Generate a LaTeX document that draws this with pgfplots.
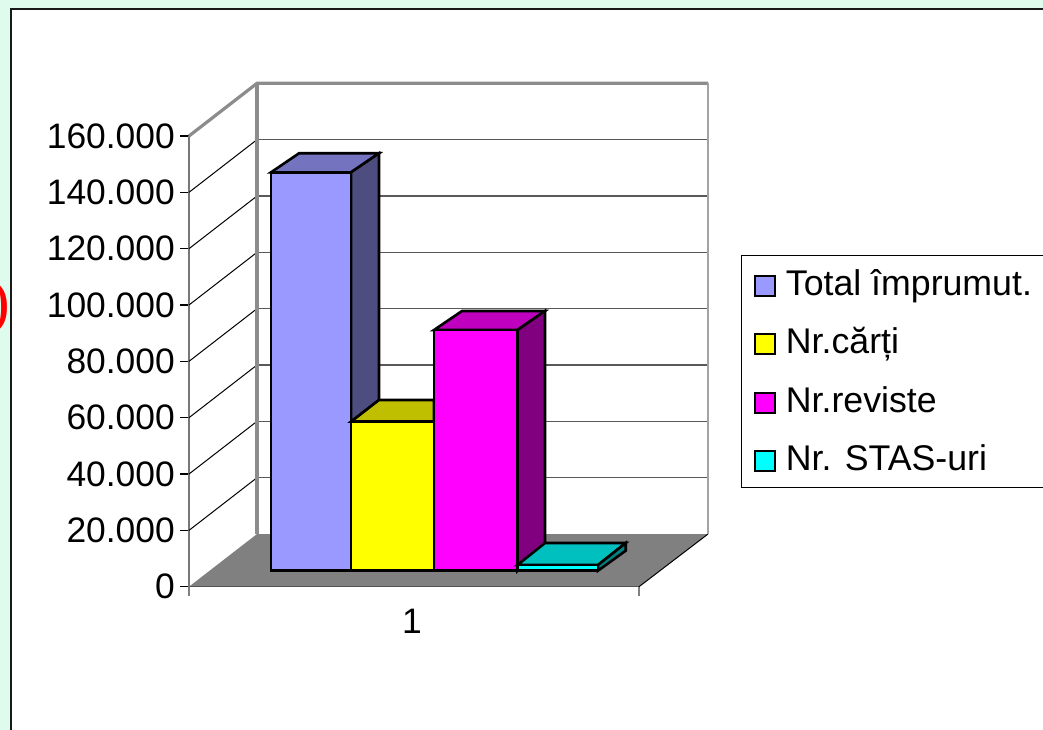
\documentclass[border=0pt]{standalone}
\usepackage{pgfplots}
\pgfplotsset{compat=1.18}
\usepackage{fontspec}
\setmainfont{Liberation Sans}
\newfontfamily\serifred{Liberation Serif}
\definecolor{mint}{HTML}{DFFBEE}
\definecolor{wallgray}{HTML}{8C8C8C}
\definecolor{floorgray}{HTML}{808080}
\definecolor{totalc}{HTML}{9999FF}
\definecolor{totalt}{HTML}{7373BF}
\definecolor{totals}{HTML}{4D4D80}
\definecolor{cartic}{HTML}{FFFF00}
\definecolor{cartit}{HTML}{BFBF00}
\definecolor{revc}{HTML}{FF00FF}
\definecolor{revt}{HTML}{BF00BF}
\definecolor{revs}{HTML}{800080}
\definecolor{stasc}{HTML}{00FFFF}
\definecolor{stast}{HTML}{00BFBF}
\definecolor{stass}{HTML}{008080}
\pgfplotsset{
  face/.style={draw=black,line width=2.6pt,line join=miter,forget plot},
  front/.style={draw=black,line width=2.6pt,line join=miter},
  griddiag/.style={draw=black,line width=1pt,forget plot},
  gridback/.style={draw=black!65,line width=1.3pt,forget plot},
  wall/.style={draw=wallgray,line width=3.2pt,forget plot},
}
\begin{document}
\begin{tikzpicture}[x=1pt,y=1pt]
\useasboundingbox (0,0) rectangle (1043,730);
\fill[mint] (0,0) rectangle (1043,730);
\node[text=red,font=\serifred\fontsize{62}{62}\selectfont,anchor=east,inner sep=0pt] at (10.5,422) {)};
\draw[fill=white,draw=black!90,line width=1.3pt] (11,-5) rectangle (1060,721);
\begin{axis}[
  at={(189pt,143.3pt)},anchor=origin,
  scale only axis,width=450pt,height=450.7pt,
  xmin=189,xmax=639,ymin=0,ymax=160000,
  clip=false,
  axis lines=left,
  axis line style={-},
  x axis line style={draw=black,line width=1.4pt},
  y axis line style={draw=wallgray!85!black,line width=2.6pt},
  tick align=outside,
  major tick length=9pt,
  xtick={189,639},xticklabels={},
  x tick style={draw=gray,line width=1.6pt},
  extra x ticks={412},extra x tick labels={1},
  extra x tick style={major tick length=0pt,tick label style={yshift=-19pt}},
  ytick={0,20000,...,160000},
  y tick style={draw=black,line width=1.2pt},
  scaled y ticks=false,
  yticklabel style={/pgf/number format/fixed,/pgf/number format/precision=0,/pgf/number format/1000 sep={.},/pgf/number format/assume math mode=true,inner sep=0pt,xshift=-5pt},
  tick label style={font=\fontsize{35.4}{40}\selectfont},
  legend style={
    at={(axis cs:741,117754)},anchor=north west,
    draw=black,line width=1.3pt,fill=white,
    font=\fontsize{35.7}{40}\selectfont,
    inner xsep=12pt,inner ysep=14.5pt,
    row sep=30.3pt,
    nodes={inner sep=0pt,text height=25.5pt,text depth=2.5pt},
  },
  legend cell align=left,
  legend image code/.code={\draw[#1,line width=2pt] (0pt,-12pt) rectangle (20pt,8pt);\path (30pt,0pt);},
]
% floor and walls
\addplot[fill=floorgray,draw=none,forget plot] coordinates {(189,0)(257,18700)(708,18700)(639,0)} --cycle;
\addplot[griddiag] coordinates {(189,20000)(257,38700)};
\addplot[griddiag] coordinates {(189,40000)(257,58700)};
\addplot[griddiag] coordinates {(189,60000)(257,78700)};
\addplot[griddiag] coordinates {(189,80000)(257,98700)};
\addplot[griddiag] coordinates {(189,100000)(257,118700)};
\addplot[griddiag] coordinates {(189,120000)(257,138700)};
\addplot[griddiag] coordinates {(189,140000)(257,158700)};
\addplot[griddiag] coordinates {(639,0)(708,18700)};
\addplot[gridback] coordinates {(257,38700)(708,38700)};
\addplot[gridback] coordinates {(257,58700)(708,58700)};
\addplot[gridback] coordinates {(257,78700)(708,78700)};
\addplot[gridback] coordinates {(257,98700)(708,98700)};
\addplot[gridback] coordinates {(257,118700)(708,118700)};
\addplot[gridback] coordinates {(257,138700)(708,138700)};
\addplot[gridback] coordinates {(257,158700)(708,158700)};
\addplot[wall] coordinates {(189,160000)(257,178700)(708,178700)};
\addplot[wall,line width=4pt] coordinates {(257,178700)(257,18700)};
\addplot[wall,line width=2.4pt,draw=wallgray!80] coordinates {(708,178700)(708,18700)};
% Total imprumut
\addplot[face,fill=totalt] coordinates {(271,147100)(299,153857)(379,153857)(351,147100)} --cycle;
\addplot[face,fill=totals] coordinates {(351,147100)(379,153857)(379,66279)(351,58575)} --cycle;
\addplot[front,fill=totalc] coordinates {(271,5680)(271,147100)(351,147100)(351,5680)} --cycle;
\addlegendentry{Total împrumut.\hspace{14pt}}
% Nr. carti
\addplot[face,fill=cartit] coordinates {(351,58575)(379,66279)(434,66279)(434,58575)} --cycle;
\addplot[front,fill=cartic] coordinates {(351,5680)(351,58575)(434,58575)(434,5680)} --cycle;
\addlegendentry{Nr.cărți}
% Nr. reviste
\addplot[face,fill=revt] coordinates {(434,91128)(462,97874)(545,97874)(517.5,91128)} --cycle;
\addplot[face,fill=revs] coordinates {(517.5,91128)(545,97874)(545,15514)(517.5,5680)} --cycle;
\addplot[front,fill=revc] coordinates {(434,5680)(434,91128)(517.5,91128)(517.5,5680)} --cycle;
\addlegendentry{Nr.reviste}
% Nr. STAS-uri
\addplot[face,fill=stast] coordinates {(517.5,7700)(545,15514)(625.7,15514)(598,7700)} --cycle;
\addplot[face,fill=stass] coordinates {(598,7700)(625.7,15514)(625.7,12780)(598,5680)} --cycle;
\addplot[front,fill=stasc] coordinates {(517.5,5680)(517.5,7700)(598,7700)(598,5680)} --cycle;
\addlegendentry{Nr. STAS-uri}
\end{axis}
\end{tikzpicture}
\end{document}
